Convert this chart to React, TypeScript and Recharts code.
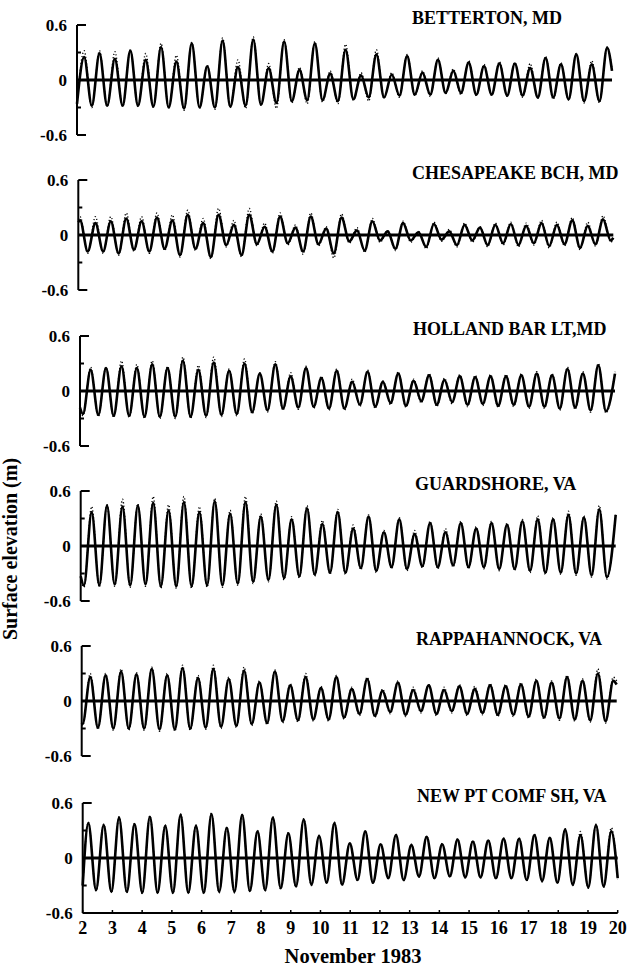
import React from "react";
import { LineChart, Line, XAxis, YAxis, ReferenceLine } from "recharts";

const STATIONS = [
  "BETTERTON, MD",
  "CHESAPEAKE BCH, MD",
  "HOLLAND BAR LT,MD",
  "GUARDSHORE, VA",
  "RAPPAHANNOCK, VA",
  "NEW PT COMF SH, VA",
];

const X_TICKS = [2, 3, 4, 5, 6, 7, 8, 9, 10, 11, 12, 13, 14, 15, 16, 17, 18, 19, 20];
const Y_TICKS = [-0.6, -0.3, 0, 0.3, 0.6];

// day of Nov 1983 of the first high/low water after 00h Nov 2, per station
const FIRST_TURN = [2.24, 2.06, 2.1, 2.11, 2.03, 2.19];

// hours after the first turning point of each successive high / low water
const TURN_HOURS = [
  0, 6.2, 12.4, 18.6, 24.8, 31.1, 37.3, 43.5, 49.7, 55.9,
  62.1, 68.3, 74.5, 80.7, 86.9, 93.2, 99.4, 105.6, 111.8, 118.0,
  124.2, 130.4, 136.6, 142.8, 149.0, 155.3, 161.5, 167.7, 173.9, 180.1,
  186.3, 192.5, 198.7, 204.9, 211.1, 217.4, 223.6, 229.8, 236.0, 242.2,
  248.4, 254.6, 260.8, 267.0, 273.2, 279.5, 285.7, 291.9, 298.1, 304.3,
  310.5, 316.7, 322.9, 329.1, 335.3, 341.6, 347.8, 354.0, 360.2, 366.4,
  372.6, 378.8, 385.0, 391.2, 397.4, 403.7, 409.9, 416.1, 422.3, 428.5,
];

// elevation (m) at the start (Nov 2) and end (Nov 20) of each record
const START_MODEL = [-0.26, 0.14, -0.18, -0.33, -0.24, -0.3];
const START_OBS = [-0.27, 0.17, -0.19, -0.35, -0.26, -0.31];
const END_MODEL = [0.1, -0.03, 0.19, 0.34, 0.18, -0.22];
const END_OBS = [0.12, -0.04, 0.21, 0.36, 0.22, -0.23];

// high / low waters, model (solid) and observed (dotted)
const BETTERTON_MODEL = [0.25,-0.28, 0.29,-0.28, 0.23,-0.28, 0.32,-0.28, 0.22,-0.29, 0.36,-0.30, 0.20,-0.31, 0.40,-0.30, 0.15,-0.30, 0.43,-0.29, 0.14,-0.28, 0.44,-0.27, 0.13,-0.25, 0.42,-0.23, 0.11,-0.22, 0.40,-0.22, 0.07,-0.23, 0.33,-0.21, 0.05,-0.19, 0.28,-0.19, 0.06,-0.17, 0.26,-0.16, 0.08,-0.16, 0.22,-0.14, 0.10,-0.14, 0.19,-0.16, 0.15,-0.16, 0.18,-0.17, 0.18,-0.17, 0.13,-0.19, 0.24,-0.19, 0.17,-0.21, 0.28,-0.23, 0.17,-0.23, 0.35];
const BETTERTON_OBS = [0.32,-0.30, 0.32,-0.29, 0.31,-0.29, 0.33,-0.29, 0.29,-0.30, 0.40,-0.31, 0.27,-0.33, 0.41,-0.31, 0.16,-0.32, 0.46,-0.30, 0.22,-0.31, 0.47,-0.28, 0.18,-0.31, 0.44,-0.25, 0.14,-0.26, 0.42,-0.24, 0.10,-0.26, 0.39,-0.22, 0.08,-0.23, 0.33,-0.20, 0.08,-0.19, 0.28,-0.17, 0.10,-0.18, 0.24,-0.15, 0.12,-0.16, 0.21,-0.17, 0.17,-0.17, 0.20,-0.18, 0.19,-0.19, 0.18,-0.20, 0.26,-0.21, 0.19,-0.22, 0.29,-0.25, 0.21,-0.25, 0.36];

const CHESAPEAKE_MODEL = [0.16,-0.18, 0.13,-0.18, 0.15,-0.20, 0.18,-0.16, 0.15,-0.18, 0.19,-0.15, 0.16,-0.22, 0.22,-0.15, 0.13,-0.24, 0.22,-0.11, 0.11,-0.22, 0.22,-0.10, 0.09,-0.18, 0.20,-0.09, 0.08,-0.18, 0.20,-0.10, 0.07,-0.20, 0.19,-0.07, 0.05,-0.17, 0.15,-0.06, 0.04,-0.15, 0.13,-0.06, 0.03,-0.13, 0.12,-0.05, 0.04,-0.11, 0.11,-0.06, 0.08,-0.11, 0.11,-0.09, 0.12,-0.11, 0.10,-0.09, 0.13,-0.12, 0.11,-0.10, 0.16,-0.14, 0.10,-0.10, 0.17,-0.06];
const CHESAPEAKE_OBS = [0.20,-0.20, 0.20,-0.20, 0.20,-0.22, 0.24,-0.18, 0.20,-0.20, 0.24,-0.17, 0.22,-0.24, 0.27,-0.17, 0.18,-0.26, 0.29,-0.13, 0.16,-0.24, 0.29,-0.12, 0.13,-0.20, 0.24,-0.11, 0.11,-0.21, 0.24,-0.12, 0.09,-0.25, 0.23,-0.09, 0.08,-0.19, 0.18,-0.08, 0.05,-0.17, 0.15,-0.08, 0.04,-0.15, 0.14,-0.07, 0.06,-0.13, 0.13,-0.08, 0.09,-0.13, 0.13,-0.11, 0.14,-0.13, 0.13,-0.11, 0.16,-0.14, 0.14,-0.12, 0.19,-0.16, 0.14,-0.12, 0.21,-0.08];

const HOLLAND_MODEL = [-0.25, 0.23,-0.26, 0.25,-0.27, 0.27,-0.27, 0.25,-0.28, 0.29,-0.28, 0.25,-0.28, 0.33,-0.28, 0.23,-0.27, 0.31,-0.26, 0.22,-0.25, 0.30,-0.23, 0.19,-0.21, 0.29,-0.19, 0.16,-0.18, 0.25,-0.17, 0.14,-0.19, 0.22,-0.19, 0.10,-0.15, 0.21,-0.17, 0.10,-0.13, 0.19,-0.16, 0.11,-0.11, 0.17,-0.15, 0.12,-0.12, 0.16,-0.15, 0.15,-0.14, 0.16,-0.16, 0.16,-0.15, 0.17,-0.17, 0.19,-0.17, 0.17,-0.19, 0.24,-0.18, 0.19,-0.21, 0.28,-0.22];
const HOLLAND_OBS = [-0.27, 0.26,-0.28, 0.26,-0.29, 0.33,-0.29, 0.29,-0.30, 0.33,-0.30, 0.27,-0.30, 0.37,-0.30, 0.28,-0.29, 0.37,-0.28, 0.24,-0.27, 0.35,-0.25, 0.20,-0.23, 0.32,-0.21, 0.20,-0.20, 0.27,-0.19, 0.16,-0.21, 0.24,-0.21, 0.13,-0.17, 0.23,-0.19, 0.11,-0.15, 0.21,-0.18, 0.13,-0.13, 0.19,-0.17, 0.14,-0.14, 0.18,-0.17, 0.17,-0.16, 0.18,-0.18, 0.18,-0.17, 0.19,-0.19, 0.21,-0.19, 0.19,-0.21, 0.26,-0.20, 0.21,-0.23, 0.30,-0.24];

const GUARDSHORE_MODEL = [-0.43, 0.37,-0.43, 0.44,-0.42, 0.43,-0.43, 0.44,-0.42, 0.47,-0.44, 0.39,-0.44, 0.48,-0.44, 0.37,-0.43, 0.49,-0.43, 0.35,-0.41, 0.48,-0.39, 0.32,-0.37, 0.45,-0.35, 0.29,-0.33, 0.41,-0.31, 0.24,-0.29, 0.37,-0.29, 0.19,-0.24, 0.32,-0.27, 0.15,-0.23, 0.29,-0.25, 0.13,-0.22, 0.25,-0.23, 0.15,-0.21, 0.25,-0.23, 0.19,-0.23, 0.25,-0.25, 0.23,-0.25, 0.27,-0.27, 0.29,-0.29, 0.29,-0.29, 0.34,-0.30, 0.31,-0.32, 0.40,-0.34];
const GUARDSHORE_OBS = [-0.45, 0.43,-0.45, 0.45,-0.44, 0.51,-0.45, 0.46,-0.44, 0.54,-0.46, 0.45,-0.46, 0.54,-0.46, 0.43,-0.45, 0.52,-0.45, 0.39,-0.43, 0.54,-0.41, 0.35,-0.39, 0.49,-0.37, 0.32,-0.35, 0.44,-0.33, 0.28,-0.31, 0.40,-0.31, 0.23,-0.26, 0.34,-0.29, 0.17,-0.25, 0.31,-0.27, 0.17,-0.24, 0.27,-0.25, 0.19,-0.23, 0.27,-0.25, 0.21,-0.25, 0.27,-0.27, 0.25,-0.27, 0.29,-0.29, 0.33,-0.31, 0.31,-0.31, 0.38,-0.32, 0.33,-0.34, 0.44,-0.36];

const RAPPAHANNOCK_MODEL = [-0.25, 0.26,-0.29, 0.28,-0.30, 0.32,-0.30, 0.29,-0.30, 0.35,-0.31, 0.28,-0.31, 0.36,-0.30, 0.25,-0.29, 0.35,-0.28, 0.24,-0.27, 0.33,-0.25, 0.20,-0.24, 0.32,-0.22, 0.17,-0.21, 0.26,-0.20, 0.14,-0.20, 0.26,-0.18, 0.13,-0.14, 0.24,-0.16, 0.11,-0.12, 0.20,-0.15, 0.12,-0.11, 0.17,-0.14, 0.12,-0.11, 0.16,-0.14, 0.13,-0.13, 0.17,-0.15, 0.16,-0.15, 0.18,-0.17, 0.22,-0.18, 0.20,-0.19, 0.26,-0.20, 0.22,-0.21, 0.30,-0.22, 0.22];
const RAPPAHANNOCK_OBS = [-0.27, 0.30,-0.31, 0.30,-0.32, 0.35,-0.32, 0.31,-0.32, 0.37,-0.33, 0.30,-0.33, 0.39,-0.32, 0.28,-0.31, 0.39,-0.30, 0.26,-0.29, 0.37,-0.27, 0.22,-0.26, 0.34,-0.24, 0.19,-0.23, 0.30,-0.22, 0.16,-0.22, 0.28,-0.20, 0.15,-0.16, 0.26,-0.18, 0.13,-0.14, 0.22,-0.17, 0.15,-0.13, 0.18,-0.16, 0.15,-0.13, 0.18,-0.16, 0.16,-0.15, 0.19,-0.17, 0.18,-0.17, 0.20,-0.19, 0.24,-0.20, 0.22,-0.21, 0.28,-0.22, 0.24,-0.23, 0.35,-0.24, 0.26];

const NEWPT_MODEL = [0.38,-0.35, 0.36,-0.37, 0.44,-0.37, 0.37,-0.38, 0.45,-0.38, 0.35,-0.38, 0.47,-0.38, 0.35,-0.38, 0.48,-0.37, 0.33,-0.37, 0.47,-0.36, 0.29,-0.35, 0.44,-0.33, 0.27,-0.31, 0.42,-0.29, 0.24,-0.27, 0.38,-0.29, 0.16,-0.24, 0.29,-0.27, 0.15,-0.22, 0.25,-0.24, 0.14,-0.20, 0.23,-0.22, 0.15,-0.20, 0.20,-0.21, 0.18,-0.21, 0.19,-0.22, 0.21,-0.22, 0.21,-0.24, 0.25,-0.25, 0.22,-0.27, 0.31,-0.29, 0.25,-0.32, 0.36,-0.31, 0.29];
const NEWPT_OBS = [0.39,-0.36, 0.37,-0.38, 0.45,-0.38, 0.38,-0.39, 0.46,-0.39, 0.36,-0.39, 0.48,-0.39, 0.36,-0.39, 0.49,-0.38, 0.34,-0.38, 0.48,-0.37, 0.30,-0.36, 0.45,-0.34, 0.28,-0.32, 0.43,-0.30, 0.25,-0.28, 0.39,-0.30, 0.17,-0.25, 0.30,-0.28, 0.16,-0.23, 0.26,-0.25, 0.15,-0.21, 0.24,-0.23, 0.16,-0.21, 0.21,-0.22, 0.19,-0.22, 0.20,-0.23, 0.22,-0.23, 0.22,-0.25, 0.26,-0.26, 0.23,-0.28, 0.32,-0.30, 0.29,-0.33, 0.37,-0.32, 0.33];

const MODEL = [BETTERTON_MODEL, CHESAPEAKE_MODEL, HOLLAND_MODEL, GUARDSHORE_MODEL, RAPPAHANNOCK_MODEL, NEWPT_MODEL];
const OBS = [BETTERTON_OBS, CHESAPEAKE_OBS, HOLLAND_OBS, GUARDSHORE_OBS, RAPPAHANNOCK_OBS, NEWPT_OBS];

// layout (px)
const ZERO_Y = [79.5, 234.5, 390.5, 545.5, 701, 857.5];
const PLOT_LEFT = [77, 78.3, 80, 80.7, 81.7, 82.7];
const TITLE_X = [412, 412, 413, 415, 416, 417];
const HALF = 55;
const PLOT_W = 535;
const PAD = 10;
const Y_W = 60;
const TICK_GAP = 10;
const FONT = '"Liberation Serif", "Times New Roman", serif';

const buildRows = (i: number) => {
  const rows = [{ t: 2, model: START_MODEL[i], obs: START_OBS[i] }];
  MODEL[i].forEach((m, k) => {
    rows.push({ t: FIRST_TURN[i] + TURN_HOURS[k] / 24, model: m, obs: OBS[i][k] });
  });
  rows.push({ t: 20, model: END_MODEL[i], obs: END_OBS[i] });
  return rows;
};

const YTick = (props: any) => {
  const { x, y, payload } = props;
  const v = payload.value;
  const axisX = x + TICK_GAP;
  const big = Math.abs(v) > 0.5;
  const label = v > 0.5 ? "0.6" : v < -0.5 ? "-0.6" : v === 0 ? "0" : "";
  return (
    <g>
      <line x1={axisX} x2={axisX + (big ? 9 : 4)} y1={y} y2={y} stroke="#000" strokeWidth={2} />
      {label && (
        <text x={x} y={y} dy={6} textAnchor="end" fontFamily={FONT} fontWeight="bold" fontSize={17} fill="#000">
          {label}
        </text>
      )}
    </g>
  );
};

const XTick = (props: any) => {
  const { x, y, payload } = props;
  return (
    <g>
      <line x1={x} x2={x} y1={y} y2={y - 3} stroke="#000" strokeWidth={1.5} />
      <text x={x} y={y + 21} textAnchor="middle" fontFamily={FONT} fontWeight="bold" fontSize={18} fill="#000">
        {payload.value}
      </text>
    </g>
  );
};

function Panel({ i }: { i: number }) {
  const last = i === STATIONS.length - 1;
  const height = PAD + 2 * HALF + (last ? 50 : PAD);
  return (
    <div style={{ position: "absolute", left: 0, top: ZERO_Y[i] - HALF - PAD }}>
      <LineChart
        width={629}
        height={height}
        data={buildRows(i)}
        margin={{ top: PAD, bottom: last ? 0 : PAD, left: PLOT_LEFT[i] - Y_W, right: 629 - PLOT_LEFT[i] - PLOT_W }}
      >
        <XAxis
          type="number"
          dataKey="t"
          domain={[2, 20]}
          ticks={X_TICKS}
          hide={!last}
          height={50}
          axisLine={{ stroke: "#000", strokeWidth: 2 }}
          tickLine={false}
          tickSize={0}
          tickMargin={0}
          tick={XTick}
          interval={0}
        />
        <YAxis
          type="number"
          domain={[-0.6, 0.6]}
          ticks={Y_TICKS}
          width={Y_W}
          axisLine={{ stroke: "#000", strokeWidth: 2 }}
          tickLine={false}
          tickSize={0}
          tickMargin={TICK_GAP}
          tick={YTick}
          interval={0}
        />
        <Line
          dataKey="obs"
          type="monotone"
          stroke="#000"
          strokeWidth={1.4}
          strokeDasharray="1.2 2.2"
          dot={false}
          activeDot={false}
          isAnimationActive={false}
        />
        <Line
          dataKey="model"
          type="monotone"
          stroke="#000"
          strokeWidth={2.6}
          dot={false}
          activeDot={false}
          isAnimationActive={false}
        />
        <ReferenceLine y={0} stroke="#000" strokeWidth={3} />
      </LineChart>
    </div>
  );
}

export default function App() {
  return (
    <div style={{ position: "absolute", left: 0, top: 0, width: 629, height: 968, background: "#fff", overflow: "hidden" }}>
      {STATIONS.map((_, i) => (
        <Panel key={i} i={i} />
      ))}
      <svg width={629} height={968} style={{ position: "absolute", left: 0, top: 0, pointerEvents: "none" }}>
        {STATIONS.map((name, i) => (
          <text key={name} x={TITLE_X[i]} y={ZERO_Y[i] - 56} fontFamily={FONT} fontWeight="bold" fontSize={18} fill="#000">
            {name}
          </text>
        ))}
        <text x={17} y={549} transform="rotate(-90 17 549)" textAnchor="middle" fontFamily={FONT} fontWeight="bold" fontSize={20} fill="#000">
          Surface elevation (m)
        </text>
        <text x={353} y={963} textAnchor="middle" fontFamily={FONT} fontWeight="bold" fontSize={20.5} fill="#000">
          November 1983
        </text>
      </svg>
    </div>
  );
}
